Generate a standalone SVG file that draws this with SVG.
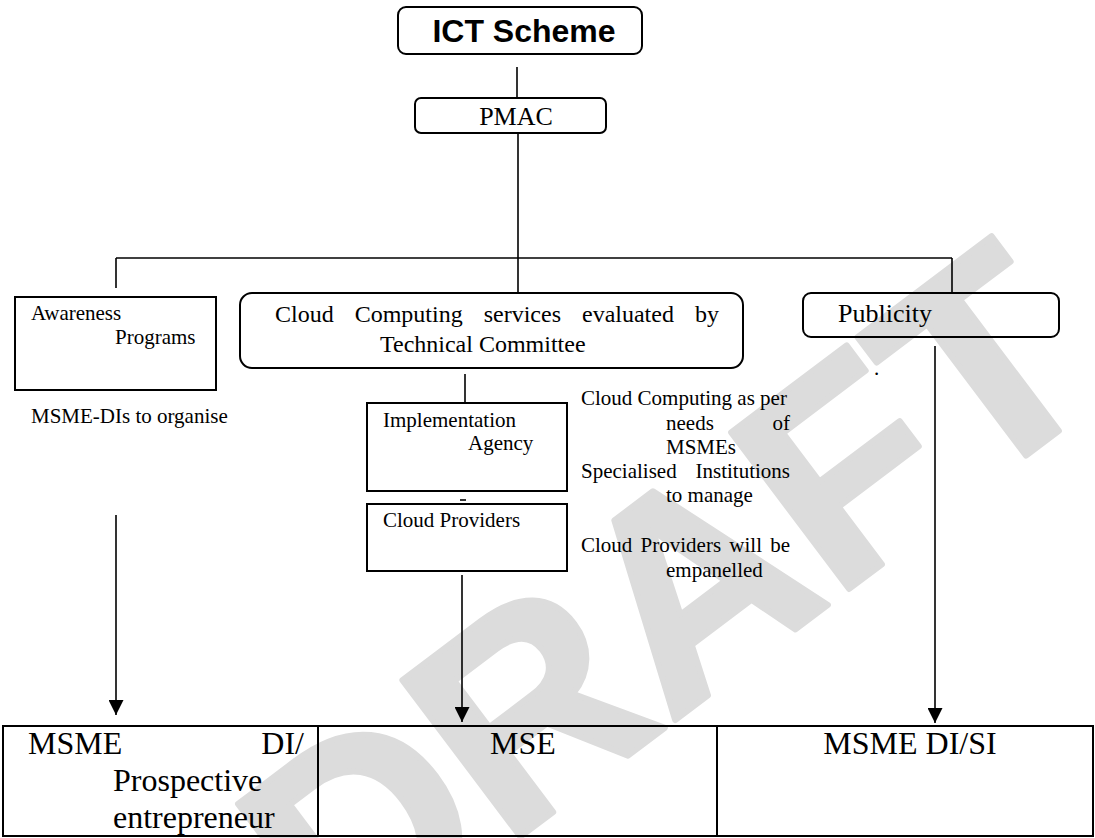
<svg xmlns="http://www.w3.org/2000/svg" width="1095" height="838" viewBox="0 0 1095 838">
<style>
.bx{fill:none;stroke:#000;stroke-width:2}
.ln{fill:none;stroke:#000;stroke-width:1.6}
.t{font-family:"Liberation Serif","Times New Roman",serif;fill:#000}
.s21{font-size:21px}
.s24{font-size:24px}
.s26{font-size:26px}
.s32{font-size:32px}
.wm{font-family:"Liberation Sans",Arial,sans-serif;font-weight:bold;font-size:285px;fill:#dcdcdc;stroke:#dcdcdc;stroke-width:6;stroke-linejoin:round}
</style>
<defs>
<marker id="ah" viewBox="0 0 15 15" refX="15" refY="7.5" markerWidth="15" markerHeight="15" markerUnits="userSpaceOnUse" orient="auto">
<path d="M0,0 L15,7.5 L0,15 z" fill="#000"/>
</marker>
</defs>
<rect width="1095" height="838" fill="#fff"/>
<g id="watermark" transform="translate(665,600) rotate(-37)">
<text class="wm" x="0" y="102" text-anchor="middle">DRAFT</text>
</g>
<g id="connectors">
<line class="ln" x1="517" y1="67" x2="517" y2="98"/>
<line class="ln" x1="518" y1="133" x2="518" y2="293"/>
<line class="ln" x1="116" y1="258" x2="952" y2="258"/>
<line class="ln" x1="116" y1="258" x2="116" y2="288"/>
<line class="ln" x1="952" y1="258" x2="952" y2="293"/>
<line class="ln" x1="465" y1="374" x2="465" y2="403"/>
<line class="ln" x1="460" y1="500" x2="466" y2="500"/>
<line class="ln" x1="116" y1="515" x2="116" y2="715" marker-end="url(#ah)"/>
<line class="ln" x1="462" y1="575" x2="462" y2="722" marker-end="url(#ah)"/>
<line class="ln" x1="935" y1="346" x2="935" y2="723" marker-end="url(#ah)"/>
</g>
<g id="ict">
<rect class="bx" x="398" y="7" width="244" height="47" rx="8"/>
<text x="524" y="42" text-anchor="middle" font-family="Liberation Sans, Arial, sans-serif" font-weight="bold" font-size="32">ICT Scheme</text>
</g>
<g id="pmac">
<rect class="bx" x="415" y="98" width="191" height="35" rx="6"/>
<text class="t s26" x="516" y="125" text-anchor="middle">PMAC</text>
</g>
<g id="awareness">
<rect class="bx" x="15" y="297" width="201" height="93"/>
<text class="t s21" x="31" y="320">Awareness</text>
<text class="t s21" x="115" y="344">Programs</text>
</g>
<g id="awareness-note">
<text class="t s21" x="31" y="423">MSME-DIs to organise</text>
</g>
<g id="cloud">
<rect class="bx" x="240" y="293" width="503" height="75" rx="12"/>
<text class="t s24" x="275" y="322" word-spacing="15">Cloud Computing services evaluated by</text>
<text class="t s24" x="380" y="352">Technical Committee</text>
</g>
<g id="publicity">
<rect class="bx" x="803" y="293" width="256" height="44" rx="8"/>
<text class="t s26" x="838" y="322">Publicity</text>
<text class="t s21" x="874" y="375">.</text>
</g>
<g id="implementation">
<rect class="bx" x="367" y="403" width="200" height="88"/>
<text class="t s21" x="383" y="427">Implementation</text>
<text class="t s21" x="468" y="450">Agency</text>
</g>
<g id="providers">
<rect class="bx" x="367" y="504" width="200" height="67"/>
<text class="t s21" x="383" y="527">Cloud Providers</text>
</g>
<g id="notes">
<text class="t s21" x="581" y="405">Cloud Computing as per</text>
<text class="t s21" x="666" y="430">needs</text>
<text class="t s21" x="790" y="430" text-anchor="end">of</text>
<text class="t s21" x="666" y="454">MSMEs</text>
<text class="t s21" x="581" y="478">Specialised</text>
<text class="t s21" x="790" y="478" text-anchor="end">Institutions</text>
<text class="t s21" x="666" y="502">to manage</text>
<text class="t s21" x="581" y="552" word-spacing="3">Cloud Providers will be</text>
<text class="t s21" x="666" y="577">empanelled</text>
</g>
<g id="cell-msme-di">
<rect class="bx" x="3" y="726" width="315" height="110"/>
<text class="t s32" x="28" y="754">MSME</text>
<text class="t s32" x="304" y="754" text-anchor="end">DI/</text>
<text class="t s32" x="113" y="791">Prospective</text>
<text class="t s32" x="113" y="828">entrepreneur</text>
</g>
<g id="cell-mse">
<rect class="bx" x="318" y="726" width="399" height="110"/>
<text class="t s32" x="523" y="754" text-anchor="middle">MSE</text>
</g>
<g id="cell-msme-disi">
<rect class="bx" x="717" y="726" width="376" height="110"/>
<text class="t s32" x="910" y="754" text-anchor="middle">MSME DI/SI</text>
</g>
</svg>
